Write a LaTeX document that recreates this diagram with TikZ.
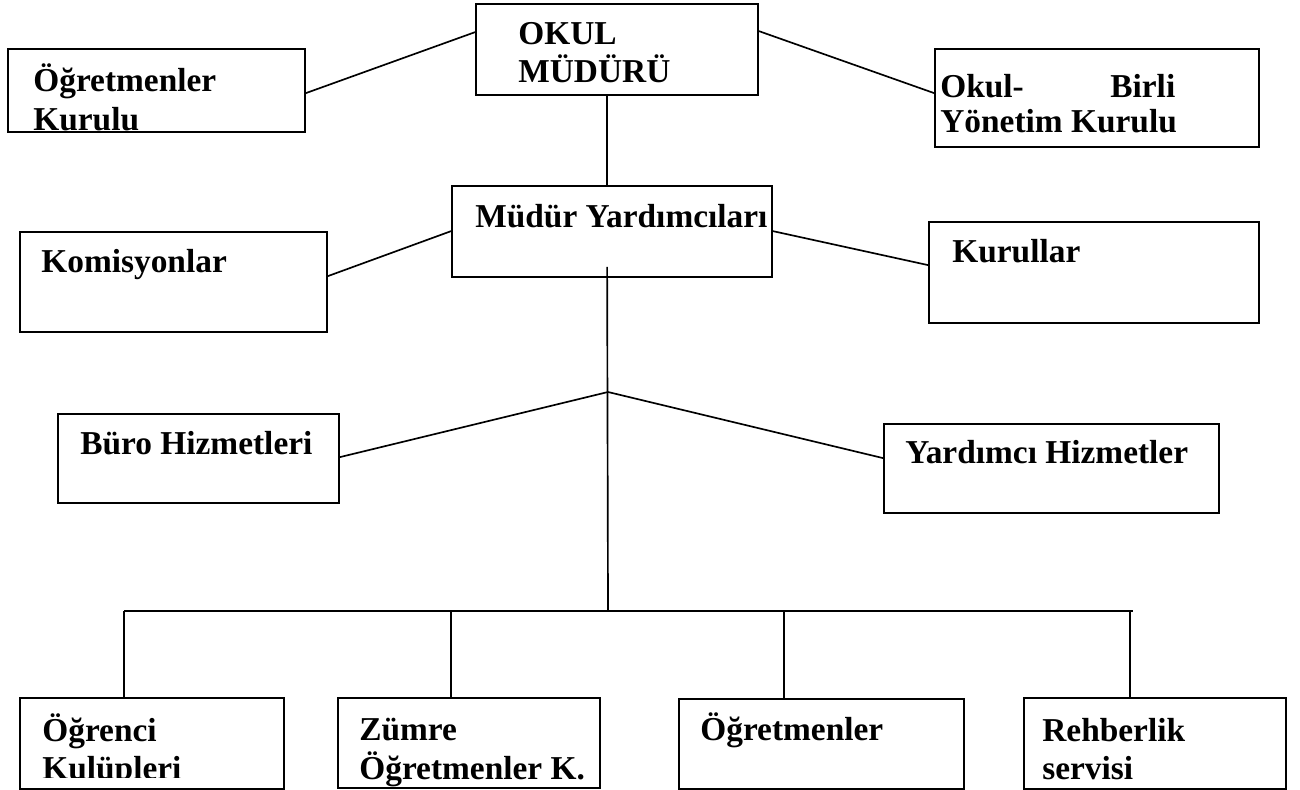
\documentclass[tikz,border=0pt]{standalone}
\usepackage{fontspec}
\setmainfont{Liberation Serif}
\usetikzlibrary{fit,calc}
\begin{document}
\begin{tikzpicture}[x=0.02cm,y=-0.02cm,
  box/.style={draw,line width=1pt,inner sep=0pt},
  lbl/.style={inner sep=0pt,anchor=base west,font=\bfseries\fontsize{19pt}{22pt}\selectfont},
  conn/.style={line width=0.95pt}]
\useasboundingbox (0,0) rectangle (1300,790);
% boxes
\node[box,fit={(8,49)(305,132)}] (ok) {};
\node[box,fit={(476,4)(758,95)}] (okul) {};
\node[box,fit={(935,49)(1259,147)}] (okb) {};
\node[box,fit={(452,186)(772,277)}] (mud) {};
\node[box,fit={(20,232)(327,332)}] (kom) {};
\node[box,fit={(929,222)(1259,323)}] (kur) {};
\node[box,fit={(58,414)(339,503)}] (buro) {};
\node[box,fit={(884,424)(1219,513)}] (yard) {};
\node[box,fit={(20,698)(284,789)}] (ogr) {};
\node[box,fit={(338,698)(600,788)}] (zum) {};
\node[box,fit={(679,699)(964,789)}] (ogt) {};
\node[box,fit={(1024,698)(1286,789)}] (reh) {};
% texts
\node[lbl] (t1a) at (33,92) {Öğretmenler};
\node[lbl] (t1b) at (33,131) {Kurulu};
\node[lbl] (t2a) at (518,45) {OKUL};
\node[lbl] (t2b) at (518,83) {MÜDÜRÜ};
\node[lbl] (t3a) at (940,98) {Okul-};
\node[lbl] (t3c) at (1110,98) {Birli};
\node[lbl] (t3b) at (940,133) {Yönetim Kurulu};
\node[lbl] (t4) at (475,228) {Müdür Yardımcıları};
\node[lbl] (t5) at (41,273) {Komisyonlar};
\node[lbl] (t6) at (952,263) {Kurullar};
\node[lbl] (t7) at (80,454) {Büro Hizmetleri};
\node[lbl] (t8) at (905,463) {Yardımcı Hizmetler};
\node[lbl] (t9a) at (42,741) {Öğrenci};
\begin{scope}
\clip (20,698) rectangle (284,777);
\node[lbl] (t9b) at (42,779) {Kulüpleri};
\end{scope}
\node[lbl] (t10a) at (359,740) {Zümre};
\begin{scope}
\clip (338,698) rectangle (600,787);
\node[lbl] (t10b) at (359,779) {Öğretmenler K.};
\end{scope}
\node[lbl] (t11) at (700,740) {Öğretmenler};
\node[lbl] (t12a) at (1042,741) {Rehberlik};
\node[lbl] (t12b) at (1042,779) {servisi};
% connectors
\draw[conn] ($(ok.north east)+(0,45)$) -- ($(okul.north west)+(0,29)$);
\draw[conn] ($(okul.north east)+(0,28)$) -- ($(okb.north west)+(0,45)$);
\draw[conn] ($(okul.south west)+(132,0)$) -- ($(mud.north west)+(156,0)$);
\draw[conn] ($(kom.north east)+(0,45)$) -- ($(mud.north west)+(0,46)$);
\draw[conn] ($(mud.north east)+(0,46)$) -- ($(kur.north west)+(0,44)$);
\coordinate (top) at ($(mud.south west)+(156,-11)$);
\coordinate (j) at (608,392);
\coordinate (hub) at (608,611);
\coordinate (hl) at (124,611);
\coordinate (hr) at (1133,611);
\draw[conn] (top) -- (hub);
\draw[conn] (j) -- ($(buro.north east)+(0,44)$);
\draw[conn] (j) -- ($(yard.north west)+(0,35)$);
\draw[conn] (hl) -- (hr);
\draw[conn] (hl) -- (hl |- ogr.north);
\coordinate (dz) at ($(zum.north west)+(114,0)$);
\draw[conn] (dz |- hub) -- (dz);
\coordinate (dt) at ($(ogt.north west)+(106,0)$);
\draw[conn] (dt |- hub) -- (dt);
\coordinate (dr) at ($(reh.north west)+(107,0)$);
\draw[conn] (dr |- hub) -- (dr);
\end{tikzpicture}
\end{document}
